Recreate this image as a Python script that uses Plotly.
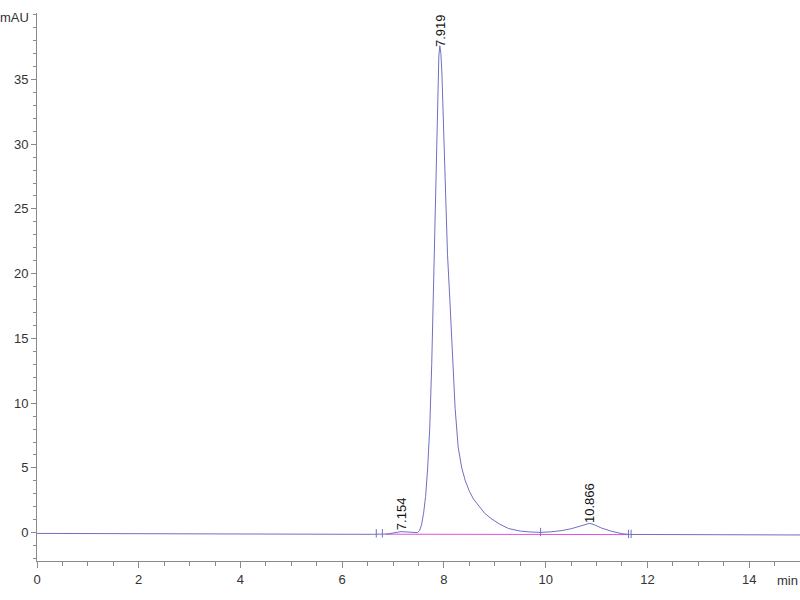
import plotly.graph_objects as go

# Chromatogram trace (time in min, signal in mAU)
time_min = [0.0, 1.0, 2.0, 2.85, 2.95, 4.0, 5.0, 6.0, 6.6, 6.9, 7.0, 7.1, 7.154, 7.25, 7.4, 7.48,
            7.52, 7.56, 7.6, 7.64, 7.68, 7.72, 7.76, 7.79, 7.82, 7.85, 7.88, 7.90, 7.919,
            7.94, 7.96, 7.99, 8.03, 8.07, 8.116, 8.17, 8.22, 8.28, 8.35, 8.42, 8.5, 8.58,
            8.7, 8.8, 8.94, 9.1, 9.27, 9.5, 9.7, 9.9, 10.1, 10.3, 10.5, 10.65, 10.78,
            10.866, 10.95, 11.1, 11.3, 11.5, 11.65, 12.0, 12.5, 13.0, 14.0, 15.05]
signal_mau = [-0.06, -0.07, -0.08, -0.08, -0.13, -0.14, -0.14, -0.14, -0.13, -0.1, -0.02, 0.05, 0.08, 0.06, 0.02, 0.0,
              0.15, 0.6, 1.5, 2.8, 5.0, 8.0, 13.0, 18.0, 24.0, 30.0, 34.5, 36.8, 37.6,
              37.0, 35.5, 32.0, 26.5, 21.5, 18.0, 13.5, 9.6, 6.6, 5.0, 4.0, 3.2, 2.6,
              1.95, 1.5, 1.05, 0.65, 0.32, 0.12, 0.05, 0.02, 0.06, 0.15, 0.3, 0.45, 0.62,
              0.72, 0.62, 0.35, 0.1, -0.08, -0.14, -0.14, -0.15, -0.16, -0.17, -0.18]

# Integration baseline (pink)
baseline_t = [6.85, 7.52, 9.9, 11.63]
baseline_y = [-0.12, -0.12, -0.12, -0.15]

# Peak start/end event markers
event_t = [6.67, 6.79, 9.9, 11.63, 11.68]
event_y = [-0.05, -0.05, 0.05, -0.1, -0.1]

# Peak labels
peak_t = [7.154, 7.919, 10.866]
peak_h = [0.3, 37.6, 0.8]
peak_lbl = ["7.154", "7.919", "10.866"]

y_ticks = [0, 5, 10, 15, 20, 25, 30, 35]
x_ticks = [0, 2, 4, 6, 8, 10, 12, 14]

line_col = "#6f6fc4"
axis_col = "#8a8a8a"
tick_font = dict(family="Liberation Sans Narrow, Arial Narrow, Liberation Sans, sans-serif", size=13, color="#333333")

fig = go.Figure()
fig.add_trace(go.Scatter(x=baseline_t, y=baseline_y, mode="lines",
                         line=dict(color="#e050e0", width=1), hoverinfo="skip"))
fig.add_trace(go.Scatter(x=time_min, y=signal_mau, mode="lines",
                         line=dict(color=line_col, width=1)))
fig.add_trace(go.Scatter(x=event_t, y=event_y, mode="markers",
                         marker=dict(symbol="line-ns", size=6, line=dict(color=line_col, width=1)),
                         hoverinfo="skip"))

for t, h, lbl in zip(peak_t, peak_h, peak_lbl):
    fig.add_annotation(x=t, y=h, text=lbl, showarrow=False, textangle=-90,
                       xanchor="center", yanchor="bottom", yshift=-3,
                       font=dict(family="Liberation Sans, Arial, sans-serif", size=13, color="#111111"))

fig.add_annotation(xref="paper", yref="paper", x=-0.029, y=0.992, text="mAU", showarrow=False,
                   xanchor="center", yanchor="middle", font=tick_font)
fig.add_annotation(xref="paper", yref="paper", x=1.0, y=-0.036, text="min", showarrow=False,
                   xanchor="right", yanchor="middle", font=tick_font)

fig.update_layout(
    width=800, height=600,
    margin=dict(l=37, r=0, t=13, b=39, autoexpand=False),
    paper_bgcolor="white", plot_bgcolor="white",
    showlegend=False,
    xaxis=dict(range=[0, 15.0], tickvals=x_ticks, showgrid=False, zeroline=False, automargin=False,
               showline=True, linecolor=axis_col, linewidth=1,
               ticks="outside", ticklen=6, tickcolor=axis_col, tickfont=tick_font,
               minor=dict(dtick=0.5, ticks="outside", ticklen=4, tickcolor=axis_col)),
    yaxis=dict(range=[-2.19, 40.13], tickvals=y_ticks, showgrid=False, zeroline=False, automargin=False,
               showline=True, linecolor=axis_col, linewidth=1,
               ticks="outside", ticklen=5, tickcolor=axis_col, tickfont=tick_font,
               minor=dict(dtick=1, ticks="outside", ticklen=3, tickcolor=axis_col)),
)

# remove the browser's default page margin so the figure fills the window exactly
fig.write_html("out.html", config={"displayModeBar": False},
               post_script="document.body.style.margin='0';")
